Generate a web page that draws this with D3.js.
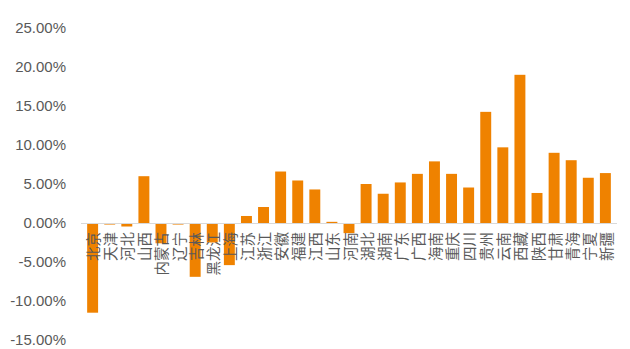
<!DOCTYPE html>
<html>
<head>
<meta charset="utf-8">
<script src="https://cdn.jsdelivr.net/npm/d3@7"></script>
<style>
  body { margin: 0; background: #fff; }
  svg { display: block; }
</style>
</head>
<body>
<div id="chart"></div>
<script>
// provinces, in order
const provinces = ["北京", "天津", "河北", "山西", "内蒙古", "辽宁", "吉林", "黑龙江", "上海", "江苏",
  "浙江", "安徽", "福建", "江西", "山东", "河南", "湖北", "湖南", "广东", "广西",
  "海南", "重庆", "四川", "贵州", "云南", "西藏", "陕西", "甘肃", "青海", "宁夏", "新疆"];

// growth, percent
const growth = [-11.5, -0.2, -0.45, 6.0, -2.6, -0.2, -6.9, -2.5, -5.4, 0.9,
  2.05, 6.6, 5.45, 4.3, 0.15, -1.3, 5.0, 3.75, 5.2, 6.3,
  7.9, 6.3, 4.55, 14.25, 9.7, 19.0, 3.85, 9.0, 8.05, 5.8, 6.4];

const yTicks = [-15, -10, -5, 0, 5, 10, 15, 20, 25];

const width = 630, height = 349;
const marginLeft = 81, marginRight = 13;

const data = provinces.map((p, i) => ({ name: p, value: growth[i] }));

const svg = d3.select("#chart").append("svg")
  .attr("width", width)
  .attr("height", height);

const x = d3.scaleBand()
  .domain(provinces)
  .range([marginLeft, width - marginRight])
  .padding(0.36);

const y = d3.scaleLinear()
  .domain([-15, 25])
  .range([340, 28]);

// y labels (no axis line)
svg.append("g")
  .selectAll("text")
  .data(yTicks)
  .join("text")
  .attr("x", 66)
  .attr("y", d => y(d))
  .attr("dy", "0.36em")
  .attr("text-anchor", "end")
  .attr("fill", "#595959")
  .style("font-family", "'Liberation Sans', Arial, sans-serif")
  .style("font-size", "15px")
  .text(d => d.toFixed(2) + "%");

// bars
svg.append("g")
  .selectAll("rect")
  .data(data)
  .join("rect")
  .attr("x", d => x(d.name))
  .attr("width", x.bandwidth())
  .attr("y", d => Math.min(y(d.value), y(0)))
  .attr("height", d => Math.abs(y(d.value) - y(0)))
  .attr("fill", "#ef8200");

// zero line
svg.append("line")
  .attr("x1", marginLeft)
  .attr("x2", width - marginRight)
  .attr("y1", y(0) + 0.5)
  .attr("y2", y(0) + 0.5)
  .attr("stroke", "#d9d9d9")
  .attr("stroke-width", 1);

// category labels, rotated
svg.append("g")
  .selectAll("text")
  .data(provinces)
  .join("text")
  .attr("transform", d => `translate(${x(d) + x.bandwidth() / 2},${y(0) + 9}) rotate(-90)`)
  .attr("text-anchor", "end")
  .attr("dominant-baseline", "central")
  .attr("fill", "#595959")
  .style("font-family", "'Noto Sans CJK SC', sans-serif")
  .style("font-size", "14.5px")
  .text(d => d);
</script>
</body>
</html>
